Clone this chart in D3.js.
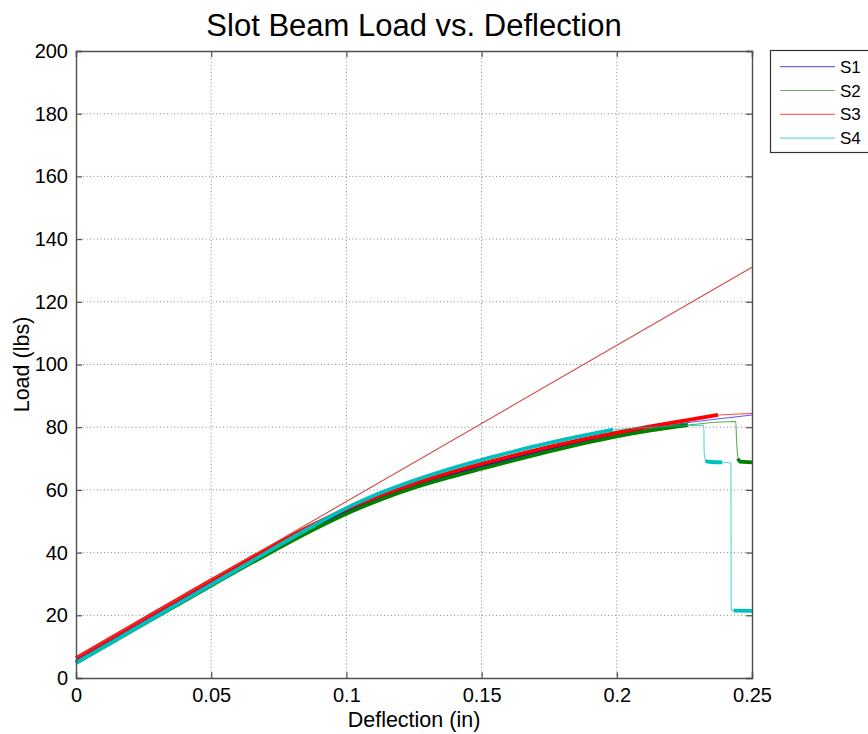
<!DOCTYPE html>
<html>
<head>
<meta charset="utf-8">
<script src="https://cdn.jsdelivr.net/npm/d3@7"></script>
<style>
	body { margin: 0; background: #fff; }
	text { font-family: "Liberation Sans", Arial, Helvetica, sans-serif; fill: #000; }
</style>
</head>
<body>
<div id="chart"></div>
<script>
// Data
//-----------
var seriesNames = ["S1", "S2", "S3", "S4"];
var seriesColors = ["#0000ff", "#008000", "#ff0000", "#00bfbf"];

// dense = 1: densely sampled noisy stretch (drawn thick), 0: sparse stretch (thin)
var s1Defl  = [0, 0.025, 0.05, 0.0625, 0.075, 0.0875, 0.1, 0.1125, 0.125, 0.1375, 0.15, 0.1625, 0.175, 0.1875, 0.2, 0.21, 0.225, 0.25];
var s1Load  = [5.0, 17.5, 29.9, 36.0, 42.0, 47.8, 53.1, 57.6, 61.5, 64.8, 67.8, 70.6, 73.2, 75.6, 77.8, 79.4, 81.3, 83.9];
var s1Dense = [1, 1, 1, 1, 1, 1, 1, 1, 1, 1, 1, 1, 1, 1, 1, 0, 0];

var s2Defl  = [0, 0.025, 0.05, 0.0625, 0.075, 0.0875, 0.1, 0.1125, 0.125, 0.1375, 0.15, 0.1625, 0.175, 0.1875, 0.2, 0.2125, 0.2263, 0.244, 0.2443, 0.2448, 0.2456, 0.25];
var s2Load  = [4.8, 17.2, 29.5, 35.6, 41.5, 47.2, 52.4, 56.9, 60.7, 63.9, 66.8, 69.6, 72.3, 74.8, 77.1, 79.0, 80.7, 81.8, 75.5, 70.0, 69.0, 68.8];
var s2Dense = [1, 1, 1, 1, 1, 1, 1, 1, 1, 1, 1, 1, 1, 1, 1, 1, 0, 0, 0, 1, 1];

var s3Defl  = [0, 0.025, 0.05, 0.0625, 0.075, 0.0875, 0.1, 0.1125, 0.125, 0.1375, 0.15, 0.1625, 0.175, 0.1875, 0.2, 0.2125, 0.225, 0.2374, 0.25];
var s3Load  = [6.3, 18.8, 31.2, 37.3, 43.2, 48.8, 53.9, 58.2, 62.0, 65.3, 68.3, 71.1, 73.7, 76.1, 78.3, 80.3, 82.1, 83.9, 84.4];
var s3Dense = [1, 1, 1, 1, 1, 1, 1, 1, 1, 1, 1, 1, 1, 1, 1, 1, 1, 0];

var s4Defl  = [0, 0.025, 0.05, 0.0625, 0.075, 0.0875, 0.1, 0.1125, 0.125, 0.1375, 0.15, 0.1625, 0.175, 0.1875, 0.1986, 0.215, 0.2322, 0.2323, 0.2328, 0.235, 0.239, 0.2422, 0.2423, 0.2432, 0.25];
var s4Load  = [4.8, 17.3, 29.8, 36.0, 42.3, 48.4, 54.2, 59.0, 63.0, 66.5, 69.6, 72.4, 75.0, 77.3, 79.2, 80.1, 80.6, 72.0, 69.2, 68.9, 68.8, 68.6, 21.7, 21.5, 21.4];
var s4Dense = [1, 1, 1, 1, 1, 1, 1, 1, 1, 1, 1, 1, 1, 1, 0, 0, 0, 0, 1, 1, 0, 0, 0, 1];

// straight reference line (red, thin, not in legend)
var fitDefl = [0, 0.25];
var fitLoad = [6.5, 131.0];

var xTicks = [0, 0.05, 0.1, 0.15, 0.2, 0.25];
var yTicks = [0, 20, 40, 60, 80, 100, 120, 140, 160, 180, 200];

// Layout
//-----------
var W = 868, H = 734;
var mLeft = 76, mRight = 752, mTop = 51, mBottom = 678;

var xScale = d3.scaleLinear([0, 0.25], [mLeft, mRight]);
var yScale = d3.scaleLinear([0, 200], [mBottom, mTop]);

var svg = d3.select("#chart")
	.append("svg")
	.attr("width", W)
	.attr("height", H);

// Grid
//-----------
var grid = svg.append("g").attr("stroke", "#8a8a8a").attr("stroke-width", 1).attr("stroke-dasharray", "1,2.5");
grid.selectAll(".gx")
	.data(xTicks.slice(1, -1))
	.enter()
	.append("line")
	.attr("x1", function(d) { return xScale(d); })
	.attr("x2", function(d) { return xScale(d); })
	.attr("y1", mTop)
	.attr("y2", mBottom);
grid.selectAll(".gy")
	.data(yTicks.slice(1, -1))
	.enter()
	.append("line")
	.attr("x1", mLeft)
	.attr("x2", mRight)
	.attr("y1", function(d) { return yScale(d); })
	.attr("y2", function(d) { return yScale(d); });

// Series
//-----------
var seriesDefl = [s1Defl, s2Defl, s3Defl, s4Defl];
var seriesLoad = [s1Load, s2Load, s3Load, s4Load];
var seriesDense = [s1Dense, s2Dense, s3Dense, s4Dense];

var line = d3.line()
	.x(function(d) { return xScale(d[0]); })
	.y(function(d) { return yScale(d[1]); })
	.curve(d3.curveMonotoneX);

// split a series into runs of equal density
function runs(defl, load, dense) {
	var out = [];
	var cur = null;
	for (var i = 0; i < dense.length; i++) {
		if (!cur || cur.dense !== dense[i]) {
			cur = {dense: dense[i], pts: [[defl[i], load[i]]]};
			out.push(cur);
		}
		cur.pts.push([defl[i + 1], load[i + 1]]);
	}
	return out;
}

var plot = svg.append("g");
seriesNames.forEach(function(name, k) {
	var g = plot.append("g");
	g.selectAll("path")
		.data(runs(seriesDefl[k], seriesLoad[k], seriesDense[k]))
		.enter()
		.append("path")
		.attr("d", function(r) { return line(r.pts); })
		.attr("fill", "none")
		.attr("stroke", seriesColors[k])
		.attr("stroke-opacity", function(r) { return r.dense ? 1 : 0.65; })
		.attr("stroke-width", function(r) { return r.dense ? 3.8 : 1.1; })
		.attr("stroke-linejoin", "round");
	if (k === 2) {
		g.append("path")
			.datum(d3.zip(fitDefl, fitLoad))
			.attr("d", d3.line().x(function(d) { return xScale(d[0]); }).y(function(d) { return yScale(d[1]); }))
			.attr("fill", "none")
			.attr("stroke", "#d04848")
			.attr("stroke-width", 1.1);
	}
});

// Axes (box with inward ticks on all sides)
//-----------
var axisColor = "#505050";
var tickLen = 6;

var xb = svg.append("g").attr("transform", "translate(0," + mBottom + ")")
	.call(d3.axisBottom(xScale).tickValues(xTicks).tickSize(-tickLen).tickPadding(10).tickFormat(d3.format("~g")));
var xt = svg.append("g").attr("transform", "translate(0," + mTop + ")")
	.call(d3.axisTop(xScale).tickValues(xTicks).tickSize(-tickLen).tickFormat(""));
var yl = svg.append("g").attr("transform", "translate(" + mLeft + ",0)")
	.call(d3.axisLeft(yScale).tickValues(yTicks).tickSize(-tickLen).tickPadding(8));
var yr = svg.append("g").attr("transform", "translate(" + mRight + ",0)")
	.call(d3.axisRight(yScale).tickValues(yTicks).tickSize(-tickLen).tickFormat(""));

[xb, xt, yl, yr].forEach(function(a) {
	a.select(".domain").attr("stroke", axisColor).attr("stroke-width", 1.4);
	a.selectAll(".tick line").attr("stroke", axisColor).attr("stroke-width", 1.2);
	a.selectAll(".tick text")
		.attr("font-family", "Liberation Sans, Arial, sans-serif")
		.attr("font-size", "20px")
		.attr("fill", "#000");
});

// Titles
//-----------
svg.append("text")
	.text("Slot Beam Load vs. Deflection")
	.attr("text-anchor", "middle")
	.attr("x", (mLeft + mRight) / 2)
	.attr("y", 36)
	.attr("font-size", "31px");

svg.append("text")
	.text("Deflection (in)")
	.attr("text-anchor", "middle")
	.attr("x", (mLeft + mRight) / 2)
	.attr("y", 727)
	.attr("font-size", "21.5px");

svg.append("text")
	.text("Load (lbs)")
	.attr("text-anchor", "middle")
	.attr("transform", "translate(29," + ((mTop + mBottom) / 2) + ") rotate(-90)")
	.attr("font-size", "21.5px");

// Legend
//-----------
var legend = svg.append("g");
legend.append("rect")
	.attr("x", 770.5)
	.attr("y", 50.5)
	.attr("width", 120)
	.attr("height", 102)
	.attr("fill", "#fff")
	.attr("stroke", "#333")
	.attr("stroke-width", 1.2);

var items = legend.selectAll(".item")
	.data(seriesNames)
	.enter()
	.append("g")
	.attr("transform", function(d, i) { return "translate(0," + (66.7 + i * 23.8) + ")"; });
items.append("line")
	.attr("x1", 780)
	.attr("x2", 835)
	.attr("stroke", function(d, i) { return seriesColors[i]; })
	.attr("stroke-opacity", 0.6)
	.attr("stroke-width", 1.2);
items.append("text")
	.text(function(d) { return d; })
	.attr("x", 840)
	.attr("y", 6)
	.attr("font-size", "17px");
</script>
</body>
</html>
